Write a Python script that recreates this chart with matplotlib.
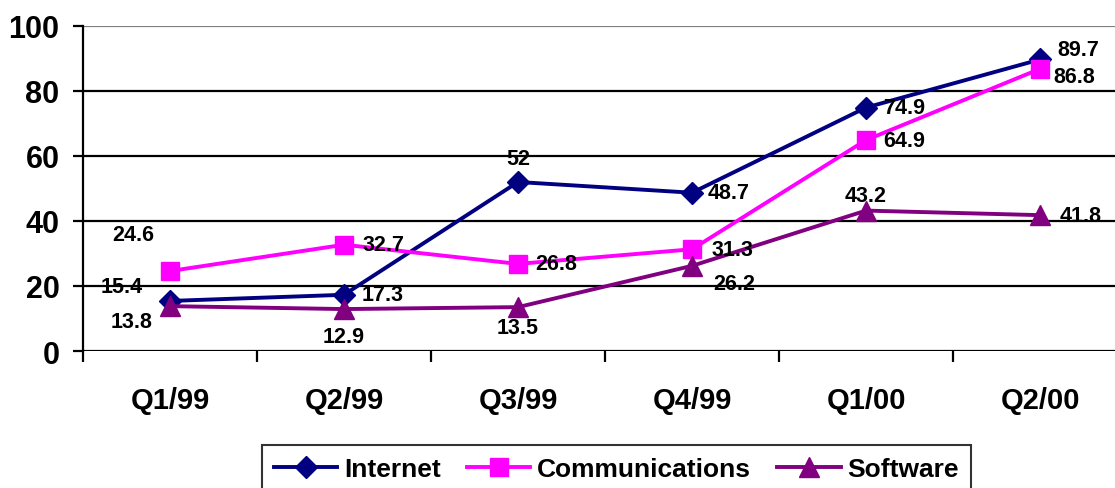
import matplotlib.pyplot as plt
import numpy as np

quarters = ["Q1/99", "Q2/99", "Q3/99", "Q4/99", "Q1/00", "Q2/00"]
internet = [15.4, 17.3, 52, 48.7, 74.9, 89.7]
communications = [24.6, 32.7, 26.8, 31.3, 64.9, 86.8]
software = [13.8, 12.9, 13.5, 26.2, 43.2, 41.8]

# label offsets in pixels (dx, dy) for each point
internet_off = [(-48, 14), (39, 0), (0, 23), (37, 0), (38, 0), (38, 10)]
comm_off = [(-37, 37), (40, 0), (38, 0), (40, 0), (38, 0), (34, -8)]
soft_off = [(-38, -15), (0, -27), (0, -20), (42, -18), (0, 15), (41, 0)]

plt.rcParams['font.family'] = ['Liberation Sans', 'DejaVu Sans']
plt.rcParams['font.weight'] = 'bold'

W, H = 1115, 489
fig = plt.figure(figsize=(W / 100, H / 100), dpi=100)
ax = fig.add_axes([83 / W, (H - 352) / H, 1044 / W, 325 / H])

x = np.arange(len(quarters))
series = [
    ("Internet", internet, internet_off, '#000080', 'D', 11),
    ("Communications", communications, comm_off, '#FF00FF', 's', 13),
    ("Software", software, soft_off, '#800080', '^', 14),
]

for name, vals, offs, color, marker, ms in series:
    ax.plot(x, vals, color=color, lw=2.8, marker=marker, ms=ms,
            markerfacecolor=color, markeredgecolor=color, label=name, zorder=3,
            clip_on=False)
    for xi, v, (dx, dy) in zip(x, vals, offs):
        ax.annotate(f"{v:g}", (xi, v), xytext=(dx, dy), textcoords='offset pixels',
                    ha='center', va='center', fontsize=15.5, fontweight='bold',
                    color='black', zorder=4, annotation_clip=False)

ax.set_xlim(-0.5, len(quarters) - 0.5)
ax.set_ylim(0, 100)
ax.set_yticks([0, 20, 40, 60, 80, 100])
for yv in [0, 20, 40, 60, 80]:
    ax.axhline(yv, color='black', lw=1.6, zorder=1)
ax.axhline(100, color='#808080', lw=1.6, zorder=1)

ax.set_xticks(x)
ax.set_xticklabels(quarters, fontsize=21, fontweight='bold')
ax.set_xticks(np.arange(-0.5, len(quarters)), minor=True)
ax.tick_params(axis='x', which='major', length=0, pad=25)
ax.tick_params(axis='x', which='minor', length=8, width=1.6, direction='out')
ax.tick_params(axis='y', length=7, width=1.6, direction='out', pad=10, labelsize=22)
for lbl in ax.get_yticklabels():
    lbl.set_fontweight('bold')

for s in ['top', 'right', 'bottom']:
    ax.spines[s].set_visible(False)
ax.spines['left'].set_linewidth(1.6)

leg = fig.legend(loc='upper left', bbox_to_anchor=(262 / W, 1 - 446 / H), ncol=3,
                 frameon=True, fancybox=False, edgecolor='black', borderaxespad=0,
                 borderpad=0.45, handlelength=2.4, columnspacing=1.0, handletextpad=0.25,
                 prop={'weight': 'bold', 'size': 19})
leg.get_frame().set_linewidth(1.5)

fig.savefig('out.png', dpi=100)
